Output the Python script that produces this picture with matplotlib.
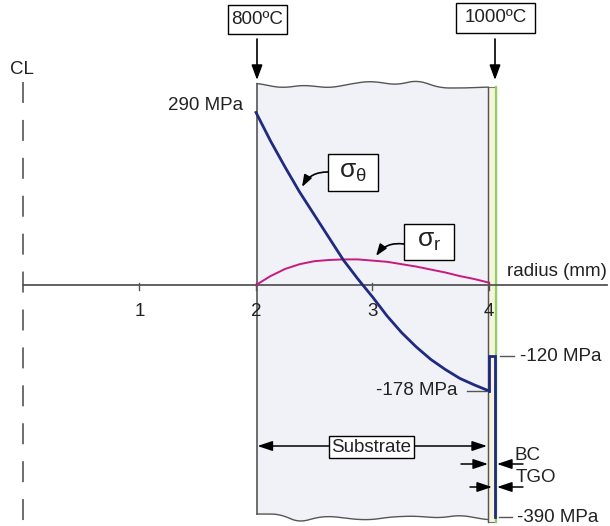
import numpy as np
import matplotlib
matplotlib.use('Agg')
import matplotlib.pyplot as plt
from matplotlib.patches import Polygon, Rectangle, FancyArrowPatch

plt.rcParams['font.family'] = ['Liberation Sans', 'DejaVu Sans']
plt.rcParams['mathtext.fontset'] = 'custom'
plt.rcParams['mathtext.rm'] = 'Liberation Sans'
plt.rcParams['mathtext.it'] = 'Liberation Sans'
plt.rcParams['mathtext.sf'] = 'Liberation Sans'
plt.rcParams['lines.scale_dashes'] = False

# ---------------- data ----------------
radius_ticks = [1, 2, 3, 4]
r_values = [2.0, 2.125, 2.25, 2.375, 2.5, 2.625, 2.75, 2.875, 3.0,
            3.125, 3.25, 3.375, 3.5, 3.625, 3.75, 3.875, 4.0]
sigma_theta = [290, 242, 198, 156, 118, 80, 42, 10, -20,
               -52, -80, -104, -125, -142, -157, -168, -178]
sigma_r = [0, 15, 27, 35, 40, 42, 43, 43, 41,
           39, 35, 31, 26, 21, 15, 10, 4]
coat_r = [4.0, 4.0, 4.05, 4.05]
coat_sigma = [-178, -120, -120, -390]
temp_labels = ['800ºC', '1000ºC']
stress_labels = ['290 MPa', '-178 MPa', '-120 MPa', '-390 MPa']

# ---------------- pixel helpers ----------------
W, H = 610, 526
X0, SX = 23, 116.5
Y0, SY = 285, 0.595


def px(x):
    return (x - X0) / SX


def py(y):
    return (Y0 - y) / SY


def smooth_wave(ctrl, n=300):
    xs = np.array([c[0] for c in ctrl], float)
    ys = np.array([c[1] for c in ctrl], float)
    xx = np.linspace(xs[0], xs[-1], n)
    yy = np.interp(xx, xs, ys)
    k = 12
    pad = np.pad(yy, k, mode='edge')
    yy = np.convolve(pad, np.ones(2 * k + 1) / (2 * k + 1), mode='valid')
    return xx, yy


def box(x1, y1, x2, y2, z=4):
    ax.add_patch(Rectangle((px(x1), py(y2)), px(x2) - px(x1), py(y1) - py(y2),
                           fc='white', ec='black', lw=1.0, zorder=z))


fig = plt.figure(figsize=(6.1, 5.26), dpi=100)
ax = fig.add_axes([0, 0, 1, 1])
ax.set_xlim(px(0), px(W))
ax.set_ylim(py(H), py(0))
ax.axis('off')

GRAY = '#555555'
BLUE = '#1f2a80'
PINK = '#c8197f'
TXT = '#222222'
FS = 13.5

# ---------------- substrate block ----------------
top_ctrl = [(257, 83), (270, 86), (283, 88), (303, 85), (330, 88), (350, 84),
            (370, 81), (397, 85), (417, 80), (440, 88), (465, 88), (488, 87)]
bot_ctrl = [(257, 514), (280, 514), (300, 523), (313, 518), (330, 516),
            (350, 519), (370, 520), (390, 517), (413, 516), (440, 518), (460, 515), (488, 520)]
tx, ty = smooth_wave(top_ctrl)
bx, by = smooth_wave(bot_ctrl)
poly = np.vstack([np.column_stack([px(tx), py(ty)]),
                  np.column_stack([px(bx[::-1]), py(by[::-1])])])
ax.add_patch(Polygon(poly, closed=True, fc='#f1f1f8', ec='none', zorder=1))
ax.plot(px(tx), py(ty), color=GRAY, lw=1.0, zorder=2)
ax.plot(px(bx), py(by), color=GRAY, lw=1.0, zorder=2)
ax.plot([px(257), px(257)], [py(ty[0]), py(by[0])], color=GRAY, lw=1.2, zorder=2)
ax.plot([px(488), px(488)], [py(87), py(522)], color=GRAY, lw=1.0, zorder=2)

# coating strip (BC) and TGO line
ax.add_patch(Rectangle((px(488), py(522)), px(496) - px(488), py(87) - py(522),
                       fc='#f6f5dc', ec='#777777', lw=0.8, zorder=1.5))
ax.plot([px(496.5), px(496.5)], [py(87), py(522)], color='#8fcf60', lw=1.6, zorder=2)

# ---------------- axis ----------------
ax.plot([0, px(607)], [0, 0], color=GRAY, lw=1.3, zorder=2.5)
for t in radius_ticks:
    ax.plot([t, t], [py(283), py(290)], color=GRAY, lw=1.0, zorder=2.5)
    ax.text(t, py(312), str(t), ha='center', va='center', fontsize=FS, color=TXT)
ax.text(px(607), py(272), 'radius (mm)', ha='right', va='center', fontsize=FS, color=TXT)

# centre line
ax.plot([0, 0], [py(82), py(526)], color=GRAY, lw=1.2, dashes=(15.1, 12.2), zorder=2.5)
ax.text(px(22), py(70), 'CL', ha='center', va='center', fontsize=FS, color=TXT)

# ---------------- curves ----------------
ax.plot(r_values, sigma_r, color=PINK, lw=1.4, zorder=3)
ax.plot(r_values, sigma_theta, color=BLUE, lw=2.0, zorder=3.2)
ax.plot(coat_r, coat_sigma, color=BLUE, lw=2.0, zorder=3.2, solid_joinstyle='miter')

# ---------------- stress labels ----------------
ax.text(px(243), py(105), stress_labels[0], ha='right', va='center', fontsize=FS, color=TXT)
ax.plot([px(467), px(486)], [coat_sigma[0], coat_sigma[0]], color=GRAY, lw=1.0)
ax.text(px(458), coat_sigma[0], stress_labels[1], ha='right', va='center', fontsize=FS, color=TXT)
ax.plot([px(500), px(514)], [coat_sigma[1], coat_sigma[1]], color=GRAY, lw=1.0)
ax.text(px(520), coat_sigma[1], stress_labels[2], ha='left', va='center', fontsize=FS, color=TXT)
ax.plot([px(499), px(512)], [coat_sigma[3], coat_sigma[3]], color=GRAY, lw=1.0)
ax.text(px(517), coat_sigma[3], stress_labels[3], ha='left', va='center', fontsize=FS, color=TXT)

# ---------------- temperature boxes ----------------
arrow_kw = dict(arrowstyle='-|>,head_length=0.9,head_width=0.33', color='black',
                lw=1.2, shrinkA=0, shrinkB=0, mutation_scale=10)
for lab, (x1, y1, x2, y2), ax_x in [(temp_labels[0], (228, 5, 287, 34), 257),
                                    (temp_labels[1], (456, 3, 535, 33), 495)]:
    box(x1, y1, x2, y2)
    ax.text(px((x1 + x2) / 2), py((y1 + y2) / 2), lab, ha='center', va='center',
            fontsize=FS, color=TXT, zorder=5)
    ax.annotate('', xy=(px(ax_x), py(80)), xytext=(px(ax_x), py(39)),
                arrowprops=arrow_kw)

# ---------------- sigma labels ----------------
for (x1, y1, x2, y2), lab, start, tip in [
        ((328, 154, 378, 191), r'$\sigma_{\theta}$', (328, 172), (302, 187)),
        ((404, 224, 454, 260), r'$\sigma_{r}$', (404, 244), (376, 256))]:
    box(x1, y1, x2, y2)
    ax.text(px((x1 + x2) / 2), py((y1 + y2) / 2 - 1), lab, ha='center', va='center',
            fontsize=19, color=TXT, zorder=5)
    ax.add_patch(FancyArrowPatch((px(start[0]), py(start[1])), (px(tip[0]), py(tip[1])),
                                 connectionstyle='arc3,rad=0.3',
                                 arrowstyle='-|>,head_length=0.7,head_width=0.25',
                                 mutation_scale=10, color='black', lw=1.2,
                                 shrinkA=0, shrinkB=0, zorder=4))

# ---------------- substrate / BC / TGO dimension arrows ----------------
ax.annotate('', xy=(px(257.5), py(446)), xytext=(px(487), py(446)),
            arrowprops=dict(arrowstyle='<|-|>,head_length=0.9,head_width=0.3', color='black',
                            lw=1.1, shrinkA=0, shrinkB=0, mutation_scale=10))
box(329, 436, 414, 458, z=4)
ax.text(px(371.5), py(447), 'Substrate', ha='center', va='center', fontsize=FS,
        color=TXT, zorder=5)

small_kw = dict(arrowstyle='-|>,head_length=0.9,head_width=0.3', color='black',
                lw=1.1, shrinkA=0, shrinkB=0, mutation_scale=10)
for y, lx0, lx1, rx0, rx1 in [(464, 461, 488, 523, 497), (487, 470, 492, 523, 497)]:
    ax.annotate('', xy=(px(lx1), py(y)), xytext=(px(lx0), py(y)), arrowprops=small_kw)
    ax.annotate('', xy=(px(rx1), py(y)), xytext=(px(rx0), py(y)), arrowprops=small_kw)
ax.text(px(515), py(455), 'BC', ha='left', va='center', fontsize=FS, color=TXT)
ax.text(px(516), py(477), 'TGO', ha='left', va='center', fontsize=FS, color=TXT)

fig.savefig('out.png', dpi=100, facecolor='white')
